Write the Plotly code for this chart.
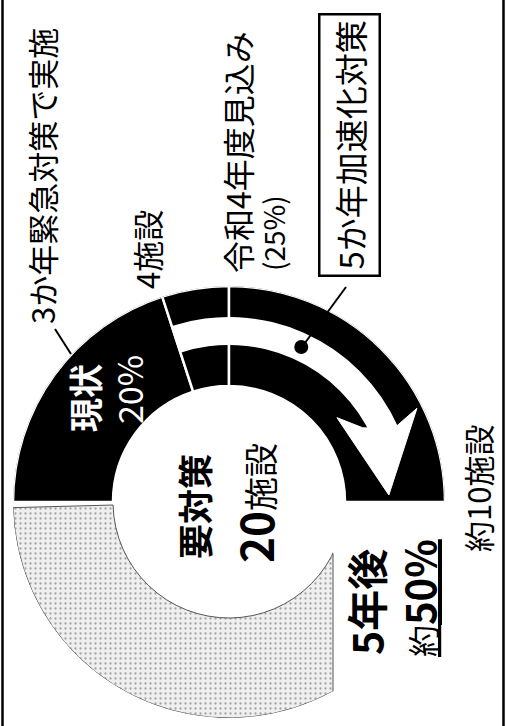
import numpy as np
import plotly.graph_objects as go

W, H = 508, 726

# Progress of the facilities that need countermeasures (share of all 20 facilities, %)
stage_labels = ["現状", "令和4年度見込み", "5か年加速化対策"]
stage_shares = [20, 5, 25]
remaining_share = 50
stage_facilities = ["4施設", "約10施設"]
total_facilities = 20
target_share = 50

# ring geometry (pixels)
CX, CY = 229, 502
R_OUT, R_IN = 216, 116
SHAFT_IN, SHAFT_OUT = 157, 185
PANEL_X = 333
FONT = "Noto Sans CJK JP"


def deg(p):
    return np.asarray(p, dtype=float) * 3.6


def fx(x):
    return x / W


def fy(y):
    return 1 - y / H


cum = np.cumsum([0] + stage_shares)
centers = deg((cum[:-1] + cum[1:]) / 2)
widths = deg(stage_shares)

fig = go.Figure()

# achieved / planned part of the ring
fig.add_trace(go.Barpolar(
    theta=centers, width=widths,
    r=[R_OUT - R_IN] * len(stage_shares), base=[R_IN] * len(stage_shares),
    marker=dict(color="black", line=dict(color="white", width=2.5)),
    hoverinfo="skip", showlegend=False,
))

# remaining part of the ring (stippled)
gap = 1.5
rem_start, rem_end = deg(cum[-1]), deg(cum[-1] + remaining_share) - gap
fig.add_trace(go.Barpolar(
    theta=[(rem_start + rem_end) / 2], width=[rem_end - rem_start],
    r=[R_OUT - R_IN], base=[R_IN],
    marker=dict(color="#ededed", line=dict(color="#555", width=1),
                pattern=dict(shape=".", fgcolor="#555", bgcolor="#efefef",
                             size=5, solidity=0.16)),
    hoverinfo="skip", showlegend=False,
))

# white arrow: shaft from the end of 現状 towards the five-year target
T = float(deg(target_share))
shaft_start, shaft_end = float(deg(cum[1])), T - 24
fig.add_trace(go.Barpolar(
    theta=[(shaft_start + shaft_end) / 2], width=[shaft_end - shaft_start],
    r=[SHAFT_OUT - SHAFT_IN], base=[SHAFT_IN],
    marker=dict(color="white", line=dict(width=0)),
    hoverinfo="skip", showlegend=False,
))
head_r = [SHAFT_IN - 4, 137, 160, 210, SHAFT_OUT - 5, SHAFT_IN - 4]
head_t = [T - 29, T - 38, T - 2.5, T - 26.5, T - 24, T - 29]
fig.add_trace(go.Scatterpolar(
    r=head_r, theta=head_t, mode="lines", fill="toself",
    fillcolor="white", line=dict(color="white", width=1),
    hoverinfo="skip", showlegend=False,
))

# callout dot on the arrow
fig.add_trace(go.Scatterpolar(
    r=[(SHAFT_IN + SHAFT_OUT) / 2], theta=[115], mode="markers",
    marker=dict(color="black", size=14),
    hoverinfo="skip", showlegend=False,
))

# where the caption panel cuts the stippled ring
dx = PANEL_X - CX
cut_top = CY + np.sqrt(R_IN ** 2 - dx ** 2)
cut_bot = CY + np.sqrt(R_OUT ** 2 - dx ** 2)

shapes = [
    # blank panel behind the five-year caption
    dict(type="rect", xref="paper", yref="paper", x0=fx(PANEL_X), x1=fx(W - 4),
         y0=fy(H), y1=fy(CY - 1), fillcolor="white", line=dict(width=0),
         layer="above"),
    dict(type="line", xref="paper", yref="paper", x0=fx(PANEL_X), x1=fx(PANEL_X),
         y0=fy(cut_top), y1=fy(cut_bot), line=dict(color="#555", width=1),
         layer="above"),
    # frame
    dict(type="line", xref="paper", yref="paper", x0=fx(2.5), x1=fx(2.5),
         y0=0, y1=1, line=dict(color="black", width=2.5)),
    dict(type="line", xref="paper", yref="paper", x0=fx(503.5), x1=fx(503.5),
         y0=0, y1=1, line=dict(color="black", width=2.5)),
    # leader lines
    dict(type="line", xref="paper", yref="paper", x0=fx(55), y0=fy(329),
         x1=fx(71), y1=fy(354), line=dict(color="black", width=2)),
    dict(type="line", xref="paper", yref="paper", x0=fx(302), y0=fy(347),
         x1=fx(346), y1=fy(287), line=dict(color="black", width=2)),
]


def label(text, x, y, size, color="black", **kw):
    return dict(text=text, x=fx(x), y=fy(y), xref="paper", yref="paper",
                showarrow=False, textangle=-90, xanchor="center",
                yanchor="middle", font=dict(family=FONT, size=size, color=color),
                **kw)


annotations = [
    label("3か年緊急対策で実施", 41, 176, 31),
    label(stage_facilities[0], 146, 250, 31),
    label(stage_labels[1], 237, 152, 32),
    label(f"({stage_shares[0] + stage_shares[1]}%)", 273, 233, 28),
    label(stage_labels[2], 350, 145, 33, bordercolor="black", borderwidth=2.5,
          borderpad=5, bgcolor="white"),
    label(f"<b>{stage_labels[0]}</b>", 84, 398, 34, color="white"),
    label(f"{stage_shares[0]}%", 128, 390, 34, color="white"),
    label("<b>要対策</b>", 193, 507, 35),
    label(f"<span style='font-size:44px'><b>{total_facilities}</b></span>施設",
          255, 503, 34),
    label("<b>5年後</b>", 365, 602, 41),
    label(f"<u>約<b><span style='font-size:40px'>{target_share}%</span></b></u>",
          419, 598, 32),
    label(stage_facilities[1], 477, 489, 31),
]

fig.update_layout(
    width=W, height=H, margin=dict(l=0, r=0, t=0, b=0),
    paper_bgcolor="white", plot_bgcolor="white",
    polar=dict(
        domain=dict(x=[fx(CX - R_OUT), fx(CX + R_OUT)],
                    y=[fy(CY + R_OUT), fy(CY - R_OUT)]),
        bgcolor="rgba(0,0,0,0)", hole=0,
        radialaxis=dict(range=[0, R_OUT], visible=False),
        angularaxis=dict(visible=False, rotation=180, direction="clockwise"),
    ),
    shapes=shapes, annotations=annotations,
)

fig.write_html("out.html")
